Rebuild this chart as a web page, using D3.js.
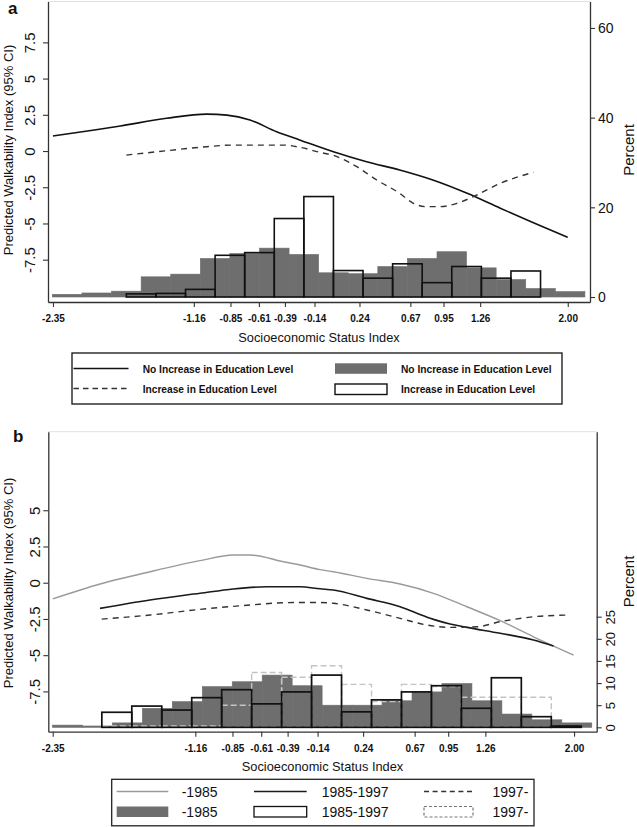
<!DOCTYPE html>
<html><head><meta charset="utf-8">
<script src="https://cdn.jsdelivr.net/npm/d3@7"></script>
<style>
html,body{margin:0;padding:0;background:#fff;}
svg{display:block;}
</style>
</head><body>
<svg id="chart" width="637" height="827"></svg>
<script>
// ---------------- DATA ----------------
const xTickValues = [-2.35, -1.16, -0.85, -0.61, -0.39, -0.14, 0.24, 0.67, 0.95, 1.26, 2.00];
const xTickLabels = ["-2.35", "-1.16", "-0.85", "-0.61", "-0.39", "-0.14", "0.24", "0.67", "0.95", "1.26", "2.00"];
const yTicksA = [7.5, 5, 2.5, 0, -2.5, -5, -7.5];
const yTickLabelsA = ["7.5", "5", "2.5", "0", "-2.5", "-5", "-7.5"];
const pctTicksA = [0, 20, 40, 60];
const yTicksB = [5, 2.5, 0, -2.5, -5, -7.5];
const yTickLabelsB = ["5", "2.5", "0", "-2.5", "-5", "-7.5"];
const pctTicksB = [0, 5, 10, 15, 20, 25];

// Panel a: predicted walkability lines [SES, value]
const lineA_noIncrease = [[-2.35,1.04],[-2.0,1.45],[-1.78,1.73],[-1.39,2.26],[-1.05,2.55],[-0.88,2.48],[-0.685,2.14],[-0.46,1.33],[-0.26,0.75],[0.02,-0.05],[0.3,-0.74],[0.58,-1.31],[0.86,-2.0],[1.15,-2.92],[1.43,-3.95],[1.71,-4.95],[2.0,-5.96]];
const lineA_increase = [[-1.73,-0.28],[-1.39,0.02],[-1.05,0.3],[-0.83,0.41],[-0.4,0.41],[-0.26,0.25],[-0.09,-0.1],[0.02,-0.3],[0.217,-1.08],[0.386,-2.0],[0.58,-2.92],[0.696,-3.61],[0.809,-3.84],[0.921,-3.84],[1.063,-3.61],[1.203,-3.15],[1.429,-2.23],[1.71,-1.47]];
// Panel a: histograms (percent per bin)
const binWidth = 0.25;
const histA_noIncreaseStart = -2.355;
const histA_noIncrease = [0.6, 0.9, 1.3, 4.5, 5.1, 8.6, 9.7, 10.9, 9.5, 5.4, 5.2, 6.8, 8.6, 10.1, 6.5, 3.9, 1.9, 1.2];
const histA_increaseStart = -1.73;
const histA_increase = [0.7, 0.8, 1.7, 9.3, 9.9, 17.5, 22.4, 5.9, 4.2, 7.4, 3.2, 6.8, 4.2, 5.8];

// Panel b lines
const lineB_pre1985 = [[-2.35,-1.12],[-1.955,-0.09],[-1.538,0.76],[-1.12,1.52],[-0.843,1.91],[-0.703,1.91],[-0.425,1.45],[-0.286,1.22],[-0.119,0.9],[-0.008,0.76],[0.271,0.3],[0.549,-0.09],[0.827,-0.73],[1.106,-1.66],[1.384,-2.62],[1.662,-3.73],[1.996,-4.99]];
const lineB_1985to1997 = [[-1.955,-1.77],[-1.538,-1.19],[-1.12,-0.73],[-0.843,-0.43],[-0.564,-0.28],[-0.286,-0.28],[-0.119,-0.42],[-0.008,-0.5],[0.271,-1.08],[0.549,-1.66],[0.688,-2.11],[0.827,-2.53],[0.966,-2.85],[1.106,-3.08],[1.384,-3.49],[1.662,-3.95],[1.829,-4.37]];
const lineB_post1997 = [[-1.941,-2.51],[-1.538,-2.23],[-1.12,-1.84],[-0.703,-1.54],[-0.425,-1.38],[-0.119,-1.36],[-0.008,-1.42],[0.271,-1.88],[0.549,-2.46],[0.772,-2.92],[0.966,-3.08],[1.189,-3.04],[1.384,-2.69],[1.662,-2.35],[1.94,-2.23]];
// Panel b histograms
const histB_pre1985Start = -2.352;
const histB_pre1985 = [0.5, 0.3, 1.0, 4.3, 5.8, 9.2, 10.3, 11.8, 9.4, 5.0, 5.0, 6.0, 8.0, 9.9, 6.0, 3.0, 1.7, 1.0];
const histB_1985to1997Start = -1.94;
const histB_1985to1997 = [3.4, 4.8, 3.9, 6.7, 8.5, 5.3, 8.0, 11.8, 3.5, 6.2, 8.0, 9.4, 4.3, 11.2, 2.4, 0.3];
const histB_post1997Start = -1.94;
const histB_post1997 = [0.3, 0.3, 0.3, 0.3, 5.0, 12.4, 11.3, 13.9, 9.7, 5.8, 9.7, 9.2, 6.8, 6.8, 6.8, 0.3];

const legendA = ["No Increase in Education Level", "Increase in Education Level"];
const legendB = ["-1985", "1985-1997", "1997-"];

// ---------------- DRAW ----------------
const FONT = '"Liberation Sans", Arial, Helvetica, sans-serif';
const GRAY = "#6e6e6e";
const svg = d3.select("#chart");

function hasFont(name){
  const ctx = document.createElement("canvas").getContext("2d");
  const s = "mmmmmmmmmmlli WWW 0123 Education";
  ctx.font = "40px monospace"; const a = ctx.measureText(s).width;
  ctx.font = '40px "' + name + '", monospace'; const b = ctx.measureText(s).width;
  return a !== b;
}
const narrow = hasFont("Liberation Sans Narrow");
const NARROW_FONT = '"Liberation Sans Narrow", ' + FONT;
const tickFont = narrow ? {fam: NARROW_FONT, size: 11.5} : {fam: FONT, size: 10};

function drawPanel(p){
  const g = svg.append("g");
  const x = d3.scaleLinear().domain(p.xDomain).range([p.left, p.right]);
  const y = d3.scaleLinear().domain(p.yDomain).range([p.bottom, p.top]);
  const yp = d3.scaleLinear().domain(p.pctDomain).range([p.bottom, p.top]);

  g.append("line").attr("x1", p.left).attr("x2", p.right).attr("y1", p.top).attr("y2", p.top)
    .attr("stroke", "#e2e2e2").attr("stroke-width", 1);

  p.hists.forEach(h => {
    const bars = h.values.map((v, i) => ({x0: h.start + i * binWidth, x1: h.start + (i + 1) * binWidth, v}));
    g.append("g").selectAll("rect").data(bars).join("rect")
      .attr("x", d => x(d.x0)).attr("width", d => x(d.x1) - x(d.x0))
      .attr("y", d => yp(d.v)).attr("height", d => yp(0) - yp(d.v))
      .attr("fill", h.fill).attr("stroke", h.stroke).attr("stroke-width", h.sw)
      .attr("stroke-dasharray", h.dash || null);
  });

  const line = d3.line().x(d => x(d[0])).y(d => y(d[1])).curve(d3.curveMonotoneX);
  p.lines.forEach(l => {
    g.append("path").datum(l.data).attr("d", line).attr("fill", "none")
      .attr("stroke", l.color).attr("stroke-width", l.sw).attr("stroke-dasharray", l.dash || null);
  });

  // left axis
  const ax = g.append("g").attr("transform", `translate(${p.left},0)`)
    .call(d3.axisLeft(y).tickValues(p.yTicks).tickFormat((d, i) => p.yTickLabels[i]).tickSize(5).tickSizeOuter(0))
    .attr("font-family", FONT).attr("font-size", 15);
  ax.selectAll("text").attr("x", 0).attr("y", p.yLabelOff).attr("dy", 0)
    .attr("text-anchor", "middle").attr("transform", "rotate(-90)").attr("fill", "#111");
  // bottom axis
  const bx = g.append("g").attr("transform", `translate(0,${p.bottom})`)
    .call(d3.axisBottom(x).tickValues(xTickValues).tickFormat((d, i) => xTickLabels[i]).tickSize(5).tickSizeOuter(0))
    .attr("font-family", tickFont.fam).attr("font-size", tickFont.size).attr("font-weight", "bold");
  bx.selectAll("text").attr("y", 20).attr("dy", 0).attr("fill", "#111");
  // right axis
  const rx = g.append("g").attr("transform", `translate(${p.right},0)`)
    .call(d3.axisRight(yp).tickValues(p.pctTicks).tickSize(5).tickSizeOuter(0))
    .attr("font-family", FONT).attr("font-size", p.pctFont);
  if (p.pctRotate) {
    rx.selectAll("text").attr("x", 0).attr("y", 18.3).attr("dy", 0)
      .attr("text-anchor", "middle").attr("transform", "rotate(-90)").attr("fill", "#111");
  } else {
    rx.selectAll("text").attr("x", 8).attr("dy", "0.35em").attr("fill", "#111");
  }
  [ax, bx, rx].forEach(a => {
    a.selectAll(".domain").attr("stroke", "#333").attr("stroke-width", 1.3);
    a.selectAll(".tick line").attr("stroke", "#333").attr("stroke-width", 1.1);
  });

  // titles
  g.append("text").attr("transform", `translate(12.5,${p.yTitleY}) rotate(-90)`)
    .attr("text-anchor", "middle").attr("font-family", FONT).attr("font-size", 13).attr("fill", "#111")
    .text("Predicted Walkability Index (95% CI)");
  g.append("text").attr("transform", `translate(634,${p.pctTitleY}) rotate(-90)`)
    .attr("text-anchor", "middle").attr("font-family", FONT).attr("font-size", 15).attr("fill", "#111")
    .text("Percent");
  g.append("text").attr("x", (p.left + p.right) / 2).attr("y", p.bottom + 39.7)
    .attr("text-anchor", "middle").attr("font-family", FONT).attr("font-size", 12.8).attr("fill", "#111")
    .text("Socioeconomic Status Index");
  g.append("text").attr("x", p.labelX).attr("y", p.labelY).attr("font-family", FONT)
    .attr("font-size", 17).attr("font-weight", "bold").attr("fill", "#111").text(p.label);
}

drawPanel({
  label: "a", labelX: 8, labelY: 14,
  top: 1.5, bottom: 302, left: 48, right: 590,
  xDomain: [-2.392, 2.188], yDomain: [-10.42, 10.32], pctDomain: [-1.115, 65.9],
  yTicks: yTicksA, yTickLabels: yTickLabelsA, yLabelOff: -13,
  pctTicks: pctTicksA, pctFont: 14, pctRotate: false,
  yTitleY: 150, pctTitleY: 150,
  hists: [
    {start: histA_noIncreaseStart, values: histA_noIncrease, fill: GRAY, stroke: GRAY, sw: 0.6},
    {start: histA_increaseStart, values: histA_increase, fill: "none", stroke: "#111", sw: 1.6}
  ],
  lines: [
    {data: lineA_noIncrease, color: "#111", sw: 1.6},
    {data: lineA_increase, color: "#333", sw: 1.4, dash: "6,5"}
  ]
});

drawPanel({
  label: "b", labelX: 13, labelY: 441.5,
  top: 431.7, bottom: 731.7, left: 48.3, right: 596.7,
  xDomain: [-2.3867, 2.189], yDomain: [-10.28, 10.42], pctDomain: [-0.99, 66.8],
  yTicks: yTicksB, yTickLabels: yTickLabelsB, yLabelOff: -8,
  pctTicks: pctTicksB, pctFont: 13, pctRotate: true,
  yTitleY: 583, pctTitleY: 581.5,
  hists: [
    {start: histB_pre1985Start, values: histB_pre1985, fill: GRAY, stroke: GRAY, sw: 0.6},
    {start: histB_post1997Start, values: histB_post1997, fill: "none", stroke: "#c4c4c4", sw: 1.4, dash: "6,3"},
    {start: histB_1985to1997Start, values: histB_1985to1997, fill: "none", stroke: "#111", sw: 1.7}
  ],
  lines: [
    {data: lineB_pre1985, color: "#9a9a9a", sw: 1.4},
    {data: lineB_1985to1997, color: "#1a1a1a", sw: 1.6},
    {data: lineB_post1997, color: "#333", sw: 1.4, dash: "6,5"}
  ]
});

// ---------------- LEGENDS ----------------
// legend a
(function(){
  const g = svg.append("g");
  g.append("rect").attr("x", 72).attr("y", 353).attr("width", 490).attr("height", 51)
    .attr("fill", "none").attr("stroke", "#111").attr("stroke-width", 1.3);
  const rows = [368.5, 388.5];
  const lf = narrow ? {fam: NARROW_FONT, size: 12.3} : {fam: FONT, size: 10.2};
  g.append("line").attr("x1", 73.5).attr("x2", 128.5).attr("y1", rows[0]).attr("y2", rows[0])
    .attr("stroke", "#111").attr("stroke-width", 1.5);
  g.append("line").attr("x1", 73.5).attr("x2", 128.5).attr("y1", rows[1]).attr("y2", rows[1])
    .attr("stroke", "#333").attr("stroke-width", 1.4).attr("stroke-dasharray", "5.5,4");
  g.append("rect").attr("x", 335).attr("y", rows[0] - 5.2).attr("width", 52).attr("height", 10.5).attr("fill", GRAY);
  g.append("rect").attr("x", 335).attr("y", rows[1] - 4.5).attr("width", 52).attr("height", 10.5)
    .attr("fill", "none").attr("stroke", "#111").attr("stroke-width", 1.4);
  [[142.7, rows[0], legendA[0]], [142.7, rows[1], legendA[1]], [401, rows[0], legendA[0]], [401, rows[1], legendA[1]]]
    .forEach(t => g.append("text").attr("x", t[0]).attr("y", t[1] + 4.2).attr("font-family", lf.fam)
      .attr("font-size", lf.size).attr("font-weight", "bold").attr("fill", "#111").text(t[2]));
})();

// legend b
(function(){
  const g = svg.append("g");
  g.append("rect").attr("x", 111.7).attr("y", 779.3).attr("width", 422.3).attr("height", 46.5)
    .attr("fill", "none").attr("stroke", "#222").attr("stroke-width", 1.3);
  const r1 = 791.5, r2 = 811.5;
  const cols = [{s: 116.7, e: 168.3, t: 181.7}, {s: 254, e: 306.7, t: 321.7}, {s: 424, e: 473, t: 492.5}];
  g.append("line").attr("x1", cols[0].s).attr("x2", cols[0].e).attr("y1", r1).attr("y2", r1)
    .attr("stroke", "#9a9a9a").attr("stroke-width", 1.3);
  g.append("line").attr("x1", cols[1].s).attr("x2", cols[1].e).attr("y1", r1).attr("y2", r1)
    .attr("stroke", "#1a1a1a").attr("stroke-width", 1.5);
  g.append("line").attr("x1", cols[2].s).attr("x2", cols[2].e - 1).attr("y1", r1).attr("y2", r1)
    .attr("stroke", "#333").attr("stroke-width", 1.3).attr("stroke-dasharray", "5,3.6");
  g.append("rect").attr("x", cols[0].s).attr("y", r2 - 5).attr("width", cols[0].e - cols[0].s).attr("height", 10.5).attr("fill", GRAY);
  g.append("rect").attr("x", cols[1].s).attr("y", r2 - 5).attr("width", cols[1].e - cols[1].s).attr("height", 10.5)
    .attr("fill", "none").attr("stroke", "#111").attr("stroke-width", 1.3);
  g.append("rect").attr("x", cols[2].s).attr("y", r2 - 5).attr("width", cols[2].e - cols[2].s).attr("height", 10.5)
    .attr("fill", "none").attr("stroke", "#777").attr("stroke-width", 1.2).attr("stroke-dasharray", "3,2");
  cols.forEach((c, i) => {
    [r1, r2].forEach(r => g.append("text").attr("x", c.t).attr("y", r + 5).attr("font-family", FONT)
      .attr("font-size", 14).attr("fill", "#111").text(legendB[i]));
  });
})();
</script>
</body></html>
